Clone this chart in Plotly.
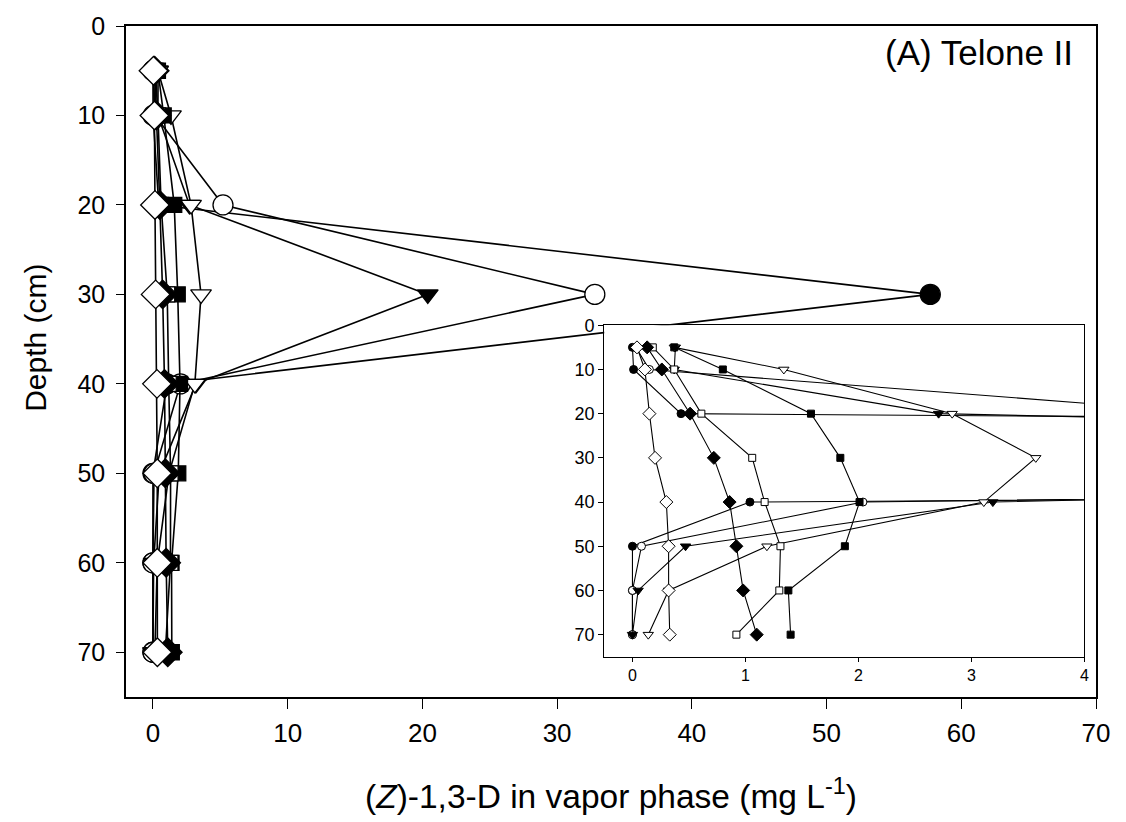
import plotly.graph_objects as go

depth = [5, 10, 20, 30, 40, 50, 60, 70]

filled_circle = [0.0, 0.01, 0.43, 57.7, 1.04, 0.0, 0.0, 0.0]
open_circle = [0.03, 0.15, 5.2, 32.8, 2.04, 0.08, 0.0, 0.0]
filled_tri = [0.38, 0.37, 2.71, 20.4, 3.19, 0.47, 0.05, 0.0]
open_tri = [0.37, 1.34, 2.83, 3.57, 3.11, 1.19, 0.32, 0.14]
filled_sq = [0.37, 0.80, 1.58, 1.84, 2.01, 1.88, 1.38, 1.40]
open_sq = [0.18, 0.37, 0.61, 1.06, 1.17, 1.31, 1.30, 0.92]
filled_dia = [0.13, 0.26, 0.51, 0.72, 0.86, 0.92, 0.98, 1.10]
open_dia = [0.04, 0.11, 0.15, 0.20, 0.30, 0.32, 0.32, 0.33]

main_xticks = [0, 10, 20, 30, 40, 50, 60, 70]
inset_xticks = [0, 1, 2, 3, 4]
yticks = [0, 10, 20, 30, 40, 50, 60, 70]

FONT = "Liberation Sans, Arial, Helvetica, sans-serif"
NARROW = "Liberation Sans Narrow, Arial Narrow, Liberation Sans, Arial, sans-serif"

series = [
    (filled_circle, "circle", "black", 20, 8),
    (open_circle, "circle", "white", 20, 8),
    (filled_tri, "triangle-down", "black", 18, 9),
    (open_tri, "triangle-down", "white", 18, 9),
    (filled_sq, "square", "black", 15, 7),
    (open_sq, "square", "white", 15, 7),
    (filled_dia, "diamond", "black", 22, 10),
    (open_dia, "diamond", "white", 22, 10),
]

fig = go.Figure()

for vals, sym, fill, msize, isize in series:
    fig.add_trace(go.Scatter(
        x=vals, y=depth, mode="lines+markers", xaxis="x", yaxis="y",
        line=dict(color="black", width=1.6),
        marker=dict(symbol=sym, size=msize, color=fill,
                    line=dict(color="black", width=1.3)),
        showlegend=False, hoverinfo="skip"))

for vals, sym, fill, msize, isize in series:
    fig.add_trace(go.Scatter(
        x=vals, y=depth, mode="lines+markers", xaxis="x2", yaxis="y2",
        line=dict(color="black", width=1.1),
        marker=dict(symbol=sym, size=isize, color=fill,
                    line=dict(color="black", width=1)),
        showlegend=False, hoverinfo="skip"))

axis_common = dict(showgrid=False, zeroline=False, showline=True,
                   linecolor="black", mirror=True, ticks="outside",
                   tickcolor="black")

fig.update_layout(
    width=1126, height=822,
    margin=dict(l=126, r=30, t=20, b=125),
    paper_bgcolor="white", plot_bgcolor="white",
    font=dict(family=FONT, color="black"),
    xaxis=dict(**axis_common, range=[-2, 70], tickvals=main_xticks,
               ticklen=10, linewidth=1.5, tickwidth=1.2,
               ticklabelstandoff=2,
               tickfont=dict(size=26)),
    yaxis=dict(**axis_common, range=[75, 0], tickvals=yticks,
               ticklen=8, linewidth=1.5, tickwidth=1.2,
               ticklabelstandoff=6,
               tickfont=dict(size=25)),
    xaxis2=dict(**axis_common, domain=[0.493, 0.988], anchor="y2",
                range=[-0.25, 4], tickvals=inset_xticks, ticklen=4,
                linewidth=1, tickwidth=1, tickfont=dict(size=16, family=NARROW)),
    yaxis2=dict(**axis_common, domain=[0.06, 0.554], anchor="x2",
                range=[75, 0], tickvals=yticks, ticklen=5,
                linewidth=1, tickwidth=1, tickfont=dict(size=18)),
    annotations=[
        dict(text="(A) Telone II", xref="paper", yref="paper",
             x=0.978, y=0.96, xanchor="right", yanchor="middle",
             showarrow=False, font=dict(size=35)),
        dict(text="(<i>Z</i>)-1,3-D in vapor phase (mg L<sup>-1</sup>)",
             xref="paper", yref="paper", x=0.5, y=-0.145,
             xanchor="center", yanchor="middle", showarrow=False,
             font=dict(size=33.5)),
        dict(text="Depth (cm)", xref="paper", yref="paper",
             x=-0.094, y=0.535, xanchor="center", yanchor="middle",
             textangle=-90, showarrow=False, font=dict(size=30)),
    ],
)

fig.write_html("out.html")
